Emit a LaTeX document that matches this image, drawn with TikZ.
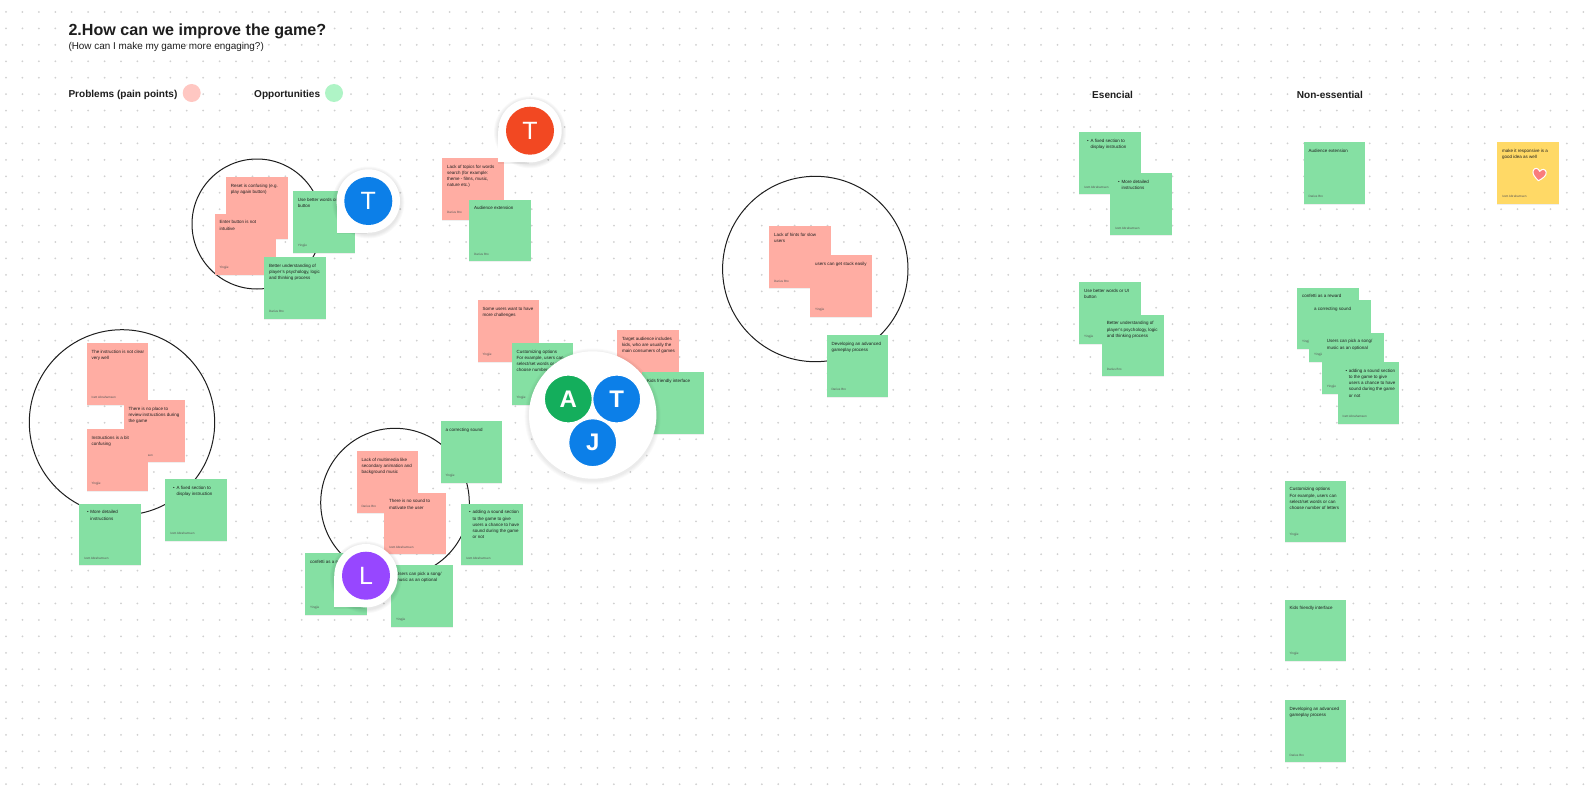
\documentclass[tikz,border=0pt]{standalone}
\usepackage{fontspec}
\setmainfont{Liberation Sans}
\usepackage{xcolor}
\usetikzlibrary{shadows}

\definecolor{inkdark}{HTML}{1E1E1E}
\definecolor{dotgray}{HTML}{D0D0D0}
\definecolor{notepink}{HTML}{FFADA3}
\definecolor{notegreen}{HTML}{85E0A3}
\definecolor{noteyellow}{HTML}{FFD966}
\definecolor{legendpink}{HTML}{FFC7C2}
\definecolor{legendgreen}{HTML}{AFF4C6}
\definecolor{pinblue}{HTML}{0C7FE8}
\definecolor{pinorange}{HTML}{F24822}
\definecolor{pinpurple}{HTML}{9747FF}
\definecolor{pingreen}{HTML}{14AE5C}
\definecolor{heartred}{HTML}{F97C7C}

\tikzset{
  notebox/.style={rectangle, inner sep=0pt, minimum size=61.7pt, anchor=north west,
    drop shadow={shadow xshift=0pt, shadow yshift=-1pt, opacity=.12}},
  notetext/.style={anchor=north west, inner sep=0pt, xshift=5pt, yshift=-7pt, align=left,
    text=inkdark, font=\fontsize{4.5}{6.25}\selectfont},
  noteauthor/.style={anchor=south west, inner sep=0pt, xshift=5pt, yshift=5.6pt,
    text=inkdark!75, font=\fontsize{3.1}{3.6}\selectfont},
  ringline/.style={circle, draw=inkdark, line width=1pt, inner sep=0pt},
  legenddot/.style={circle, inner sep=0pt, minimum size=18pt},
  headline/.style={anchor=west, inner sep=0pt, text=inkdark, font=\fontsize{10.05}{12}\selectfont\bfseries},
  avatarpin/.style={circle, inner sep=0pt, minimum size=48pt, text=white, font=\fontsize{25}{25}\selectfont},
  avatarbold/.style={avatarpin, draw=white, line width=1.2pt, font=\fontsize{24}{24}\selectfont\bfseries},
}

\newcommand{\stickynote}[6]{
  \node[notebox, fill=#2] (#1) at (#3,#4) {};
  \node[notetext] (#1text) at (#1.north west) {#5};
  \node[noteauthor] (#1author) at (#1.south west) {#6};
}
\newcommand{\pinbubble}[5]{
  \begin{scope}[shift={(#2,#3)}]
    \foreach \r in {36,35,34,33}
      \fill[black, opacity=.025] (0,1.5) circle (\r pt);
    \fill[black, opacity=.05] (-31.7,1) rectangle (-1,33);
    \fill[white] (0,0) circle (31.7pt);
    \fill[white] (-31.7,0) rectangle (0,31.7);
    \node[avatarpin, fill=#4] (#1) at (0,0) {#5};
  \end{scope}
}
\newcommand{\bul}{\makebox[6.3pt][l]{\hspace*{3pt}\textbullet}}
\newcommand{\ind}{\hspace*{6.3pt}}

\begin{document}
\begin{tikzpicture}[x=1pt, y=-1pt]
\useasboundingbox (0,0) rectangle (1588,792);
\fill[white] (0,0) rectangle (1588,792);

\foreach \i in {0,...,96}
  \foreach \j in {0,...,47}
    \fill[dotgray] (6+16.43*\i, 12+16.43*\j) circle (1pt);

\node[anchor=west, inner sep=0pt, text=inkdark, font=\fontsize{16.1}{20}\selectfont\bfseries] (maintitle) at (68.3,31.5) {2.How can we improve the game?};
\node[anchor=west, inner sep=0pt, text=inkdark, font=\fontsize{9.9}{12}\selectfont] (subtitle) at (68.3,47) {(How can I make my game more engaging?)};
\node[headline] (problems) at (68.3,95) {Problems (pain points)};
\node[legenddot, fill=legendpink] (problemsdot) at (191.7,93) {};
\node[headline] (opportunities) at (254,95) {Opportunities};
\node[legenddot, fill=legendgreen] (opportunitiesdot) at (334,93) {};
\node[headline] (esencial) at (1092,95) {Esencial};
\node[headline] (nonessential) at (1296.7,95) {Non-essential};

\node[ringline, minimum size=130pt] (ringreset) at (257,224) {};
\node[ringline, minimum size=185.4pt] (ringinstr) at (122,422.4) {};
\node[ringline, minimum size=148.6pt] (ringsound) at (395,502.6) {};
\node[ringline, minimum size=185.4pt] (ringhints) at (815.3,269) {};

\stickynote{reset}{notepink}{225.7}{176.7}{Reset is confusing (e.g.\\play again button)}{Yingjie}
\stickynote{enter}{notepink}{214.3}{213.3}{Enter button is not\\intuitive}{Yingjie}
\stickynote{wordsa}{notegreen}{292.7}{191}{Use better words or UI\\button}{Yingjie}
\stickynote{playera}{notegreen}{264}{256.7}{Better understanding of\\player's psychology, logic\\and thinking process}{Darius Bro}

\stickynote{topics}{notepink}{442}{157.7}{Lack of topics for words\\search (for example:\\theme - films, music,\\nature etc.)}{Darius Bro}
\stickynote{audiencea}{notegreen}{469}{199.3}{Audience extension}{Darius Bro}

\stickynote{instr}{notepink}{86.3}{342.7}{The instruction is not clear\\very well}{Ivett Abrahamsen}
\stickynote{review}{notepink}{123.3}{400}{There is no place to\\review instructions during\\the game}{Ivett Abrahamsen}
\stickynote{confusing}{notepink}{86.3}{428.7}{Instructions is a bit\\confusing}{Yingjie}
\stickynote{detaileda}{notegreen}{79}{503.3}{\bul More detailed\\\ind instructions}{Ivett Abrahamsen}
\stickynote{fixeda}{notegreen}{165}{478.7}{\bul A fixed section to\\\ind display instruction}{Ivett Abrahamsen}

\stickynote{multimedia}{notepink}{356.3}{451}{Lack of multimedia like\\secondary animation and\\background music}{Darius Bro}
\stickynote{nosound}{notepink}{384}{492.3}{There is no sound to\\motivate the user}{Ivett Abrahamsen}
\stickynote{correcta}{notegreen}{440.3}{421}{a correcting sound}{Yingjie}
\stickynote{addinga}{notegreen}{461}{503.3}{\bul adding a sound section\\\ind to the game to give\\\ind users a chance to have\\\ind sound during the game\\\ind or not}{Ivett Abrahamsen}
\stickynote{confettia}{notegreen}{305}{552.7}{confetti as a reward}{Yingjie}
\stickynote{songa}{notegreen}{391}{565}{Users can pick a song/\\music as an optional}{Yingjie}

\stickynote{challenges}{notepink}{477.3}{300}{Some users want to have\\more challenges}{Yingjie}
\stickynote{customa}{notegreen}{511.3}{342.7}{Customizing options\\For example, users can\\select/set words or can\\choose number of letters}{Yingjie}
\stickynote{target}{notepink}{617}{330}{Target audience includes\\kids, who are usually the\\main consumers of games}{Yingjie}
\stickynote{kidsa}{notegreen}{642}{372}{Kids friendly interface}{Yingjie}

\stickynote{hints}{notepink}{769}{226}{Lack of hints for slow\\users}{Darius Bro}
\stickynote{stuck}{notepink}{810}{254.7}{users can get stuck easily}{Yingjie}
\stickynote{advanceda}{notegreen}{826.3}{334.7}{Developing an advanced\\gameplay process}{Darius Bro}

\stickynote{fixedb}{notegreen}{1079}{132}{\bul A fixed section to\\\ind display instruction}{Ivett Abrahamsen}
\stickynote{detailedb}{notegreen}{1110}{173}{\bul More detailed\\\ind instructions}{Ivett Abrahamsen}
\stickynote{wordsb}{notegreen}{1079}{281.7}{Use better words or UI\\button}{Yingjie}
\stickynote{playerb}{notegreen}{1101.7}{314.3}{Better understanding of\\player's psychology, logic\\and thinking process}{Darius Bro}

\stickynote{audienceb}{notegreen}{1303.3}{141.7}{Audience extension}{Darius Bro}
\stickynote{responsive}{noteyellow}{1497}{141.7}{make it responsive is a\\good idea as well}{Ivett Abrahamsen}
\stickynote{confettib}{notegreen}{1297}{287.3}{confetti as a reward}{Yingjie}
\stickynote{correctb}{notegreen}{1309}{299.7}{a correcting sound}{Yingjie}
\stickynote{songb}{notegreen}{1321.7}{332.3}{Users can pick a song/\\music as an optional}{Yingjie}
\stickynote{addingb}{notegreen}{1337.3}{361.7}{\bul adding a sound section\\\ind to the game to give\\\ind users a chance to have\\\ind sound during the game\\\ind or not}{Ivett Abrahamsen}
\stickynote{customb}{notegreen}{1284.3}{480.3}{Customizing options\\For example, users can\\select/set words or can\\choose number of letters}{Yingjie}
\stickynote{kidsb}{notegreen}{1284.3}{599.3}{Kids friendly interface}{Yingjie}
\stickynote{advancedb}{notegreen}{1284.3}{700}{Developing an advanced\\gameplay process}{Darius Bro}

\begin{scope}[shift={(1539.3,174.3)}, rotate=-8]
  \draw[white, fill=heartred, line width=1pt, line join=round] (0,6.5) .. controls (-4,3.5) and (-7.5,0.5) .. (-6.5,-3) .. controls (-5.7,-6) and (-2,-6.5) .. (0,-3) .. controls (2,-6.5) and (5.7,-6) .. (6.5,-3) .. controls (7.5,0.5) and (4,3.5) .. (0,6.5) -- cycle;
\end{scope}

\pinbubble{pinteal}{368.3}{201}{pinblue}{T}
\pinbubble{pinred}{530}{130.7}{pinorange}{T}
\pinbubble{pinlilac}{366}{575.7}{pinpurple}{L}

\foreach \r in {68,67,66,65}
  \fill[black, opacity=.02] (592.7,416.5) circle (\r pt);
\node[circle, fill=white, inner sep=0pt, minimum size=127.4pt] (cluster) at (592.7,415) {};
\node[avatarbold, fill=pingreen] (avatara) at (568.3,399) {A};
\node[avatarbold, fill=pinblue] (avatart) at (616.7,399) {T};
\node[avatarbold, fill=pinblue] (avatarj) at (592.7,442.7) {J};
\end{tikzpicture}
\end{document}
